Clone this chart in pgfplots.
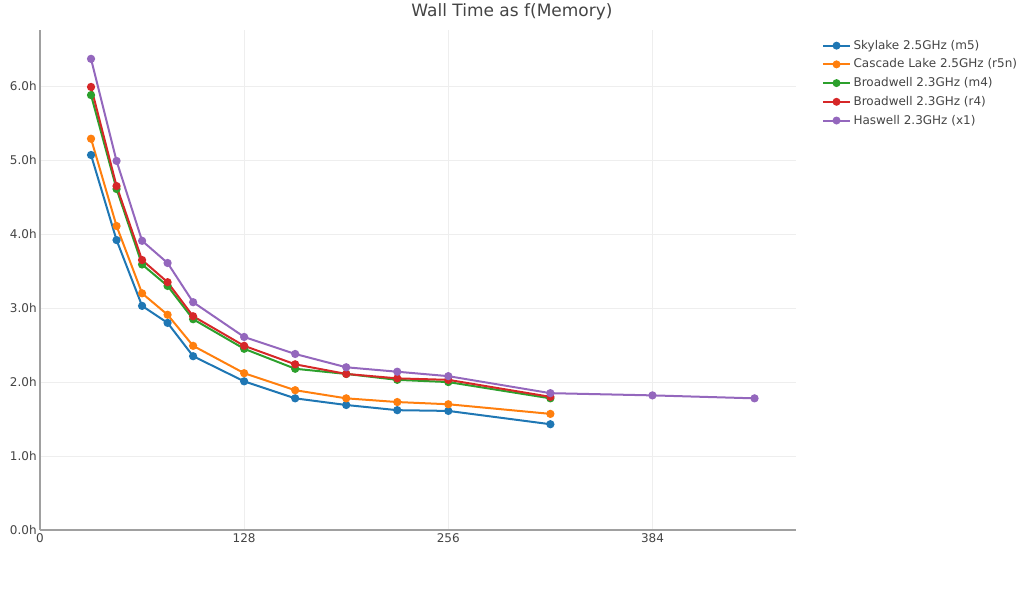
\documentclass[border=0pt]{standalone}
\usepackage{fontspec}
\setmainfont{DejaVu Sans}
\usepackage{pgfplots}
\pgfplotsset{compat=1.18}
\definecolor{cBlue}{HTML}{1F77B4}
\definecolor{cOrange}{HTML}{FF7F0E}
\definecolor{cGreen}{HTML}{2CA02C}
\definecolor{cRed}{HTML}{D62728}
\definecolor{cPurple}{HTML}{9467BD}
\definecolor{inkText}{HTML}{444444}
\definecolor{gridGray}{HTML}{EEEEEE}
\definecolor{axisGray}{HTML}{A0A0A0}

\begin{document}
\begin{tikzpicture}
% 1px = 0.75pt; page is 1024x600 px
\useasboundingbox (-30pt,-52.5pt) rectangle (738pt,397.5pt);
\begin{axis}[
    at={(0,0)}, anchor=south west,
    scale only axis,
    width=567pt, height=375pt,
    xmin=0, xmax=474, ymin=0, ymax=6.76,
    xtick={0,128,256,384},
    ytick={0,1,2,3,4,5,6},
    yticklabels={0.0h,1.0h,2.0h,3.0h,4.0h,5.0h,6.0h},
    axis lines=left,
    axis line style={-, axisGray, line width=1.5pt},
    major tick length=0pt,
    grid=major, grid style={gridGray, line width=0.75pt},
    tick label style={font=\fontsize{9pt}{11pt}\selectfont, text=inkText},
    xticklabel style={yshift=1pt},
    yticklabel style={xshift=1pt},
    /pgf/number format/assume math mode=true,
    every axis plot/.append style={line width=1.5pt, mark=*, mark size=2.3pt},
    legend style={at={(1.029,0.991)}, anchor=north west, draw=none, fill=none,
        font=\fontsize{9pt}{11pt}\selectfont, text=inkText,
        row sep=1.7pt},
    legend cell align=left,
    legend image code/.code={
        \draw[#1, line width=1.5pt] (0pt,0pt) -- (20pt,0pt);
        \fill[#1] (10pt,0pt) circle (2.2pt);
    },
]
\addplot[color=cBlue, mark options={fill=cBlue}] coordinates {
 (32,5.07) (48,3.92) (64,3.03) (80,2.80) (96,2.35) (128,2.01) (160,1.78)
 (192,1.69) (224,1.62) (256,1.61) (320,1.43)};
\addlegendentry{Skylake 2.5GHz (m5)}
\addplot[color=cOrange, mark options={fill=cOrange}] coordinates {
 (32,5.29) (48,4.11) (64,3.20) (80,2.91) (96,2.49) (128,2.12) (160,1.89)
 (192,1.78) (224,1.73) (256,1.70) (320,1.57)};
\addlegendentry{Cascade Lake 2.5GHz (r5n)}
\addplot[color=cGreen, mark options={fill=cGreen}] coordinates {
 (32,5.88) (48,4.61) (64,3.59) (80,3.30) (96,2.85) (128,2.45) (160,2.18)
 (192,2.11) (224,2.03) (256,2.00) (320,1.78)};
\addlegendentry{Broadwell 2.3GHz (m4)}
\addplot[color=cRed, mark options={fill=cRed}] coordinates {
 (32,5.99) (48,4.65) (64,3.65) (80,3.35) (96,2.89) (128,2.49) (160,2.24)
 (192,2.11) (224,2.05) (256,2.03) (320,1.80)};
\addlegendentry{Broadwell 2.3GHz (r4)}
\addplot[color=cPurple, mark options={fill=cPurple}] coordinates {
 (32,6.37) (48,4.99) (64,3.91) (80,3.61) (96,3.08) (128,2.61) (160,2.38)
 (192,2.20) (224,2.14) (256,2.08) (320,1.85) (384,1.82) (448,1.78)};
\addlegendentry{Haswell 2.3GHz (x1)}
\end{axis}
\node[font=\fontsize{12.75pt}{15pt}\selectfont, text=inkText] at (354pt,388.5pt) {Wall Time as f(Memory)};
\end{tikzpicture}
\end{document}
